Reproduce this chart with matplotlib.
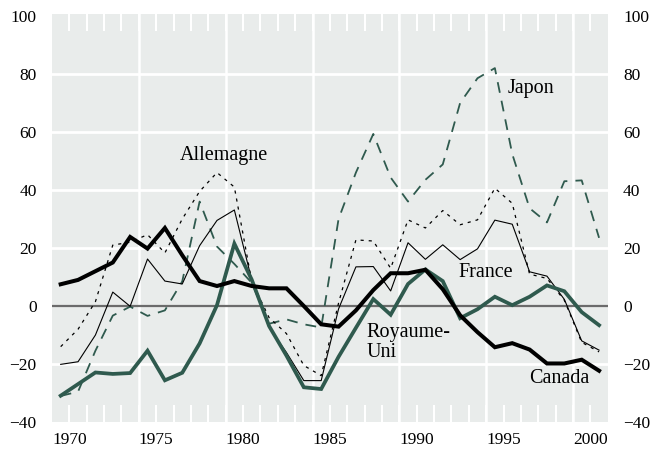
import numpy as np
import matplotlib
matplotlib.use("Agg")
import matplotlib.pyplot as plt

plt.rcParams['font.family'] = ['Liberation Serif', 'DejaVu Serif']

# annual values 1970-2001, plotted half a year left of the year tick
years = list(range(1970, 2002))

canada = [7.5, 9, 12, 15, 23.8, 19.8, 26.9, 17.5, 8.6, 6.9, 8.6, 6.9, 6.1, 6.1, 0, -6.3,
          -7.1, -1.5, 5.5, 11.3, 11.3, 12.5, 5.8, -3.2, -9, -14.2, -12.8, -15, -19.8, -19.8, -18.5, -22.3]
royaume_uni = [-30.9, -26.9, -22.9, -23.4, -23.1, -15.4, -25.6, -23, -12.9, 0.3, 21.5, 9.1, -6.9, -17.1, -28, -28.6,
               -17.5, -7.5, 2.4, -3, 7.6, 12.6, 8.6, -4.2, -1.1, 3.2, 0.3, 3.2, 7.1, 5.1, -2.1, -6.6]
france = [-20.1, -19.2, -10, 4.8, -0.1, 16.2, 8.6, 7.6, 20.8, 29.5, 33.1, 9, -7.4, -16, -25.7, -25.7,
          -1, 13.5, 13.6, 5.2, 21.8, 16.1, 21.1, 16, 19.7, 29.6, 28.2, 11.8, 10.3, 2.3, -12, -15.2]
allemagne = [-14, -8, 1.5, 21, 22, 24.6, 18.3, 30, 39.5, 46, 41, 8.5, -4, -9.5, -20.5, -24,
             1, 22.8, 22.4, 13, 29.7, 26.9, 32.9, 28, 29.7, 40.6, 35.4, 11, 9.5, 2, -12.5, -15.8]
japon = [-31, -29.5, -15.4, -3.3, -0.2, -3.4, -1.5, 8.5, 36, 20.5, 14.5, 8, -6.1, -4.6, -6.3, -7.4,
         30, 46, 59.3, 44.3, 36, 43.5, 48.8, 70, 78.5, 82, 52.4, 33.7, 28.8, 43, 43.3, 23.5]

green = "#2f5a4e"
bg = "#e9eceb"

fig = plt.figure(figsize=(6.5, 4.5), dpi=100)
ax = fig.add_axes([0.08, 0.062, 0.855, 0.906])
ax.set_facecolor(bg)
for s in ax.spines.values():
    s.set_visible(False)

x = np.array(years) - 0.5

# white grid
for v in [-20, 20, 40, 60, 80]:
    ax.axhline(v, color="white", lw=2.0, zorder=1)
for v in range(1974, 2000, 5):
    ax.axvline(v, color="white", lw=1.8, zorder=1)
ax.axhline(0, color="#6b6b6b", lw=1.6, zorder=2)

ax.plot(x, japon, color=green, lw=1.3, dashes=(6, 4.5), zorder=3)
ax.plot(x, allemagne, color="black", lw=0.9, dashes=(2.5, 4), zorder=3)
ax.plot(x, france, color="black", lw=0.8, zorder=4)
ax.plot(x, royaume_uni, color=green, lw=2.7, zorder=5, solid_joinstyle="miter")
ax.plot(x, canada, color="black", lw=2.9, zorder=6, solid_joinstyle="miter")

ax.set_xlim(1969, 2001)
ax.set_ylim(-40, 100.5)
ax.set_xticks(range(1970, 2001, 5))
ax.set_xticks(range(1970, 2001), minor=True)
ax.set_yticks(range(-40, 101, 20))
ax.tick_params(axis="x", which="both", direction="in", length=12.5, width=1.5,
               color="white", top=True, bottom=True, labelsize=12.5, pad=7)
ax.tick_params(axis="y", length=0, labelleft=True, labelright=True, labelsize=12.5, pad=11)
for t in ax.xaxis.get_major_ticks() + ax.xaxis.get_minor_ticks():
    t.tick1line.set_zorder(1)
    t.tick2line.set_zorder(1)

ax.text(1978.9, 52, "Allemagne", fontsize=14.5, ha="center", va="center")
ax.text(1996.6, 75, "Japon", fontsize=14.5, ha="center", va="center")
ax.text(1994.0, 11.7, "France", fontsize=14.5, ha="center", va="center")
ax.text(1987.1, -12.6, "Royaume-\nUni", fontsize=14.5, ha="left", va="center", linespacing=1.05)
ax.text(1998.2, -25, "Canada", fontsize=14.5, ha="center", va="center")

fig.savefig("out.png", dpi=100)
